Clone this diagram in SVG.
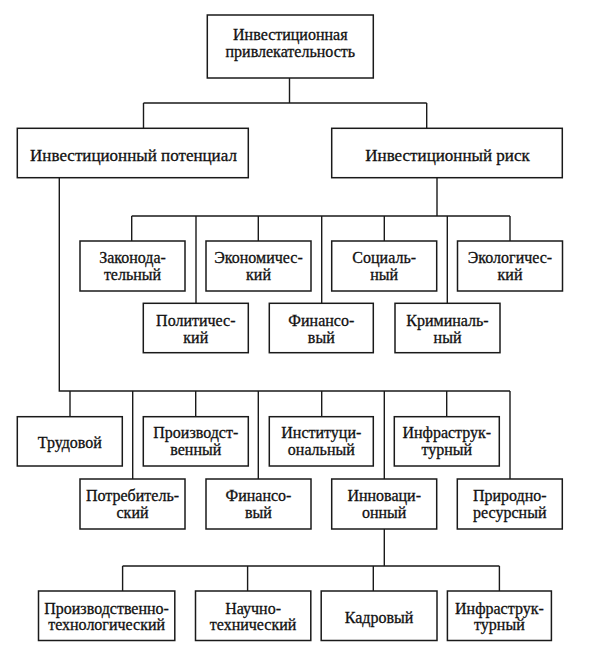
<svg xmlns="http://www.w3.org/2000/svg" width="605" height="650" viewBox="0 0 605 650">
<style>
.b{fill:#fff;stroke:#1a1a1a;stroke-width:1.5}
.c{fill:none;stroke:#1a1a1a;stroke-width:1.4}
.t text{font-family:"Liberation Serif","Times New Roman",serif;font-size:16px;fill:#111;stroke:#111;stroke-width:0.3;text-anchor:middle}
.t text.L{font-size:17px}
</style>
<rect width="605" height="650" fill="#fff"/>
<g id="connectors" class="c">
<path d="M289.5,78V103M143.5,103H426.7M143.5,103V128.3M426.7,103V128.3"/>
<path d="M437,177.7V216M131.7,216H510M131.7,216V241M258.3,216V241M384.3,216V241M510,216V241M196,216V303.3M321.7,216V303.3M447.3,216V303.3"/>
<path d="M59.3,177.7V391H510M70,391V416.7M195.7,391V416.7M321.7,391V416.7M446.7,391V416.7M132.7,391V479M258.3,391V479M384.3,391V479M510,391V479"/>
<path d="M384.3,529V566M122.6,566H499.4M122.6,566V591M247.6,566V591M373.3,566V591M499.4,566V591"/>
</g>
<g class="t">
<g id="n-top"><rect class="b" x="207.3" y="15" width="166" height="63"/><text x="290.3" y="39.5">Инвестиционная</text><text x="290.3" y="57">привлекательность</text></g>
<g id="n-potential"><rect class="b" x="17.3" y="128.3" width="231" height="49.4"/><text class="L" x="133.5" y="160.5">Инвестиционный потенциал</text></g>
<g id="n-risk"><rect class="b" x="331.7" y="128.3" width="230.6" height="49.4"/><text class="L" x="447.5" y="160.5">Инвестиционный риск</text></g>
<g id="r-zakon"><rect class="b" x="80" y="241" width="105" height="50"/><text x="132.5" y="263">Законода-</text><text x="132.5" y="280">тельный</text></g>
<g id="r-econ"><rect class="b" x="206" y="241" width="105" height="50"/><text x="258.5" y="263">Экономичес-</text><text x="258.5" y="280">кий</text></g>
<g id="r-soc"><rect class="b" x="331.7" y="241" width="105" height="50"/><text x="384.2" y="263">Социаль-</text><text x="384.2" y="280">ный</text></g>
<g id="r-ecol"><rect class="b" x="457.5" y="241" width="105" height="50"/><text x="510" y="263">Экологичес-</text><text x="510" y="280">кий</text></g>
<g id="r-polit"><rect class="b" x="143.3" y="303.3" width="105" height="49.4"/><text x="195.8" y="325.5">Политичес-</text><text x="195.8" y="342.5">кий</text></g>
<g id="r-fin"><rect class="b" x="269.3" y="303.3" width="104" height="49.4"/><text x="321.3" y="325.5">Финансо-</text><text x="321.3" y="342.5">вый</text></g>
<g id="r-crim"><rect class="b" x="395" y="303.3" width="105" height="49.4"/><text x="447.5" y="325.5">Криминаль-</text><text x="447.5" y="342.5">ный</text></g>
<g id="p-trud"><rect class="b" x="17.3" y="416.7" width="105" height="49.3"/><text x="69.8" y="448">Трудовой</text></g>
<g id="p-proizv"><rect class="b" x="143.3" y="416.7" width="105" height="49.3"/><text x="195.8" y="438">Производст-</text><text x="195.8" y="455">венный</text></g>
<g id="p-inst"><rect class="b" x="269.3" y="416.7" width="104" height="49.3"/><text x="321.3" y="438">Институци-</text><text x="321.3" y="455">ональный</text></g>
<g id="p-infra"><rect class="b" x="394.3" y="416.7" width="105" height="49.3"/><text x="446.8" y="438">Инфраструк-</text><text x="446.8" y="455">турный</text></g>
<g id="p-potreb"><rect class="b" x="80" y="479" width="105" height="50"/><text x="132.5" y="501">Потребитель-</text><text x="132.5" y="518">ский</text></g>
<g id="p-fin"><rect class="b" x="206" y="479" width="105" height="50"/><text x="258.5" y="501">Финансо-</text><text x="258.5" y="518">вый</text></g>
<g id="p-innov"><rect class="b" x="331.7" y="479" width="105" height="50"/><text x="384.2" y="501">Инноваци-</text><text x="384.2" y="518">онный</text></g>
<g id="p-prirod"><rect class="b" x="457.3" y="479" width="105" height="50"/><text x="509.8" y="501">Природно-</text><text x="509.8" y="518">ресурсный</text></g>
<g id="i-proizv"><rect class="b" x="38.5" y="591" width="136.3" height="49.5"/><text x="106.6" y="613.5">Производственно-</text><text x="106.6" y="630">технологический</text></g>
<g id="i-nauch"><rect class="b" x="195.5" y="591" width="115.3" height="49.5"/><text x="253.1" y="613.5">Научно-</text><text x="253.1" y="630">технический</text></g>
<g id="i-kadr"><rect class="b" x="321.2" y="591" width="115.8" height="49.5"/><text x="379.1" y="622.5">Кадровый</text></g>
<g id="i-infra"><rect class="b" x="447.4" y="591" width="104" height="49.5"/><text x="499.4" y="613.5">Инфраструк-</text><text x="499.4" y="630">турный</text></g>
</g>
</svg>
